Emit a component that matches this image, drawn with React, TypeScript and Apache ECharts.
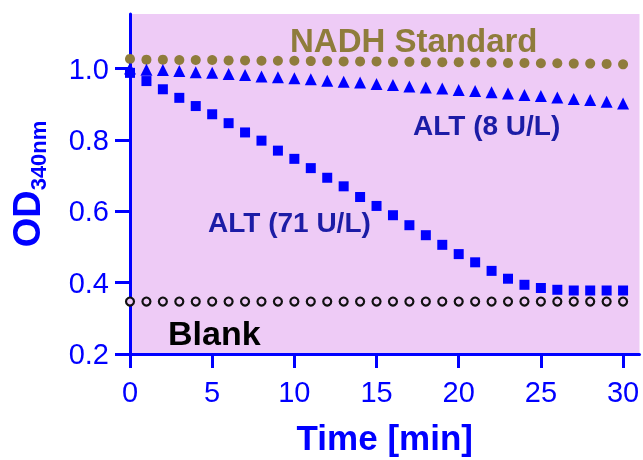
import React, { useEffect, useRef } from "react";
import * as echarts from "echarts";

const timeMin = [0,1,2,3,4,5,6,7,8,9,10,11,12,13,14,15,16,17,18,19,20,21,22,23,24,25,26,27,28,29,30];
const nadhStandard = [1.027,1.025,1.025,1.024,1.024,1.024,1.023,1.023,1.022,1.022,1.022,1.021,1.021,1.020,1.020,1.020,1.019,1.019,1.018,1.018,1.018,1.017,1.017,1.016,1.016,1.015,1.015,1.014,1.014,1.013,1.012];
const alt8 = [1.0,0.997,0.996,0.993,0.990,0.988,0.985,0.982,0.978,0.976,0.973,0.970,0.966,0.963,0.961,0.957,0.954,0.950,0.947,0.944,0.940,0.937,0.934,0.930,0.926,0.923,0.919,0.915,0.912,0.907,0.902];
const alt71 = [0.988,0.965,0.942,0.918,0.895,0.872,0.847,0.821,0.798,0.770,0.747,0.721,0.694,0.670,0.640,0.615,0.589,0.561,0.533,0.506,0.480,0.457,0.433,0.411,0.394,0.385,0.380,0.378,0.378,0.378,0.378];
const blank = [0.347,0.347,0.347,0.347,0.347,0.347,0.347,0.347,0.347,0.347,0.347,0.347,0.347,0.347,0.347,0.347,0.347,0.347,0.347,0.347,0.347,0.347,0.347,0.347,0.347,0.347,0.347,0.347,0.347,0.347,0.347];
const xTicks = [0, 5, 10, 15, 20, 25, 30];
const yTicks = [0.2, 0.4, 0.6, 0.8, 1.0];

const FONT = "'Liberation Sans', Arial, Helvetica, sans-serif";
const BLUE = "#0000ff";

function pairs(ys: number[]) {
  return timeMin.map((t, i) => [t, ys[i]]);
}

export default function App() {
  const ref = useRef<HTMLDivElement>(null);
  useEffect(() => {
    if (!ref.current) return;
    const chart = echarts.init(ref.current, undefined, { renderer: "svg" });
    chart.setOption({
      animation: false,
      grid: {
        left: 129,
        right: 3.5,
        top: 14,
        bottom: 103.5,
        show: true,
        backgroundColor: "#eecbf6",
        borderWidth: 0,
      },
      xAxis: {
        type: "value",
        min: 0,
        max: 31,
        interval: 5,
        name: "Time [min]",
        nameLocation: "middle",
        nameGap: 66,
        nameTextStyle: { color: BLUE, fontSize: 35, fontWeight: "bold", fontFamily: FONT },
        axisLine: { show: true, onZero: false, lineStyle: { color: BLUE, width: 3 } },
        axisTick: { show: true, length: 14, customValues: xTicks, lineStyle: { color: BLUE, width: 3 } },
        axisLabel: { customValues: xTicks, color: BLUE, fontSize: 29, fontFamily: FONT, margin: 23 },
        splitLine: { show: false },
      },
      yAxis: {
        type: "value",
        min: 0.2,
        max: 1.153,
        interval: 0.2,
        name: "{a|OD}{b|340nm}",
        nameLocation: "middle",
        nameRotate: 90,
        nameGap: 84,
        nameTextStyle: {
          color: BLUE,
          fontFamily: FONT,
          rich: {
            a: { fontSize: 38, fontWeight: "bold", color: BLUE, fontFamily: FONT },
            b: { fontSize: 22, fontWeight: "bold", color: BLUE, fontFamily: FONT, verticalAlign: "bottom", padding: [0, 0, -3, 0] },
          },
        },
        axisLine: { show: true, onZero: false, lineStyle: { color: BLUE, width: 3 } },
        axisTick: { show: true, length: 15, customValues: yTicks, lineStyle: { color: BLUE, width: 3 } },
        axisLabel: {
          customValues: yTicks,
          color: BLUE,
          fontSize: 29,
          fontFamily: FONT,
          margin: 21,
          formatter: (v: number) => v.toFixed(1),
        },
        splitLine: { show: false },
      },
      series: [
        {
          name: "Blank",
          type: "line",
          data: pairs(blank),
          lineStyle: { width: 0, opacity: 0 },
          symbol: "circle",
          symbolSize: 8,
          itemStyle: { color: "#eecbf6", borderColor: "#111111", borderWidth: 2.2 },
        },
        {
          name: "NADH Standard",
          type: "line",
          data: pairs(nadhStandard),
          lineStyle: { width: 0, opacity: 0 },
          symbol: "circle",
          symbolSize: 10,
          itemStyle: { color: "#8f7c3c", borderWidth: 0 },
        },
        {
          name: "ALT (8 U/L)",
          type: "line",
          data: pairs(alt8),
          lineStyle: { width: 0, opacity: 0 },
          symbol: "triangle",
          symbolSize: 12,
          itemStyle: { color: BLUE, borderWidth: 0 },
        },
        {
          name: "ALT (71 U/L)",
          type: "line",
          data: pairs(alt71),
          lineStyle: { width: 0, opacity: 0 },
          symbol: "rect",
          symbolSize: 10,
          itemStyle: { color: BLUE, borderWidth: 0 },
        },
      ],
      graphic: [
        {
          type: "text",
          x: 290,
          y: 40,
          style: { text: "NADH Standard", fill: "#8f7c3c", font: `bold 33px ${FONT}`, textAlign: "left", textVerticalAlign: "middle" },
        },
        {
          type: "text",
          x: 413,
          y: 125,
          style: { text: "ALT (8 U/L)", fill: "#1c1ca6", font: `bold 28px ${FONT}`, textAlign: "left", textVerticalAlign: "middle" },
        },
        {
          type: "text",
          x: 208,
          y: 222,
          style: { text: "ALT (71 U/L)", fill: "#1c1ca6", font: `bold 28px ${FONT}`, textAlign: "left", textVerticalAlign: "middle" },
        },
        {
          type: "text",
          x: 168,
          y: 333,
          style: { text: "Blank", fill: "#000000", font: `bold 34px ${FONT}`, textAlign: "left", textVerticalAlign: "middle" },
        },
      ],
    });
    return () => chart.dispose();
  }, []);
  return (
    <div
      ref={ref}
      style={{ position: "fixed", left: 0, top: 0, width: 643, height: 460 }}
    />
  );
}
